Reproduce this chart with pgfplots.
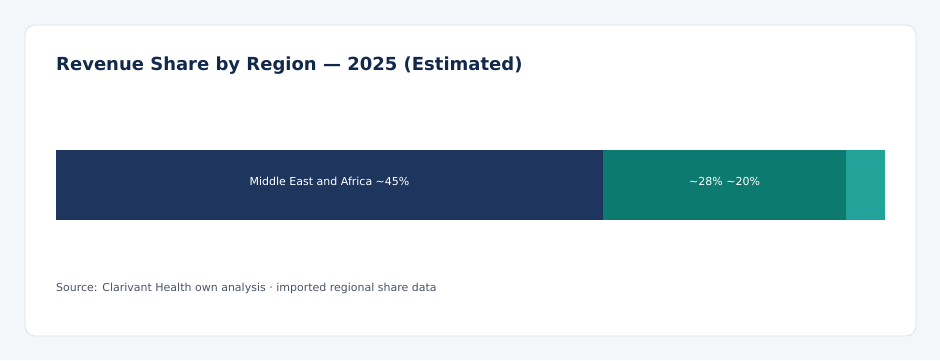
\documentclass[border=0pt]{standalone}
\usepackage{pgfplots}
\pgfplotsset{compat=1.18}
\usepackage{fontspec}
\setmainfont{DejaVu Sans}
\definecolor{bg}{HTML}{F4F7FA}
\definecolor{cardborder}{HTML}{DDE1EA}
\definecolor{titlec}{HTML}{13294B}
\definecolor{srcc}{HTML}{4A5568}
\definecolor{navy}{HTML}{1E365E}
\definecolor{tealA}{HTML}{0D7A6F}
\definecolor{tealB}{HTML}{21A39A}
\begin{document}
\begin{tikzpicture}[x=1pt,y=1pt]
\fill[bg] (0,0) rectangle (940,360);
\draw[cardborder, fill=white, rounded corners=10pt, line width=0.8pt] (25,24) rectangle (916,335);
\node[anchor=base west, inner sep=0, text=titlec, font=\fontsize{18}{20}\selectfont\bfseries] at (56,290) {Revenue Share by Region — 2025 (Estimated)};
\node[anchor=base west, inner sep=0, text=srcc, font=\fontsize{11}{13}\selectfont] at (56,69) {Source: Clarivant Health own analysis · imported regional share data};
\begin{axis}[
  at={(56pt,140pt)}, anchor=south west,
  width=829pt, height=70pt, scale only axis,
  xmin=0, xmax=68.2, ymin=-0.5, ymax=0.5,
  xbar stacked, bar width=70pt,
  hide axis, clip=false,
]
\addplot[fill=navy, draw=none] coordinates {(45,0)};
\addplot[fill=tealA, draw=none] coordinates {(20,0)};
\addplot[fill=tealB, draw=none] coordinates {(3.2,0)};
\coordinate (l1) at (axis cs:22.5,0);
\coordinate (l2) at (axis cs:55,0);
\end{axis}
\node[text=white, font=\fontsize{11}{13}\selectfont, yshift=4pt] at (l1) {Middle East and Africa \textasciitilde45\%};
\node[text=white, font=\fontsize{11}{13}\selectfont, yshift=4pt] at (l2) {\textasciitilde28\% \textasciitilde20\%};
\end{tikzpicture}
\end{document}
